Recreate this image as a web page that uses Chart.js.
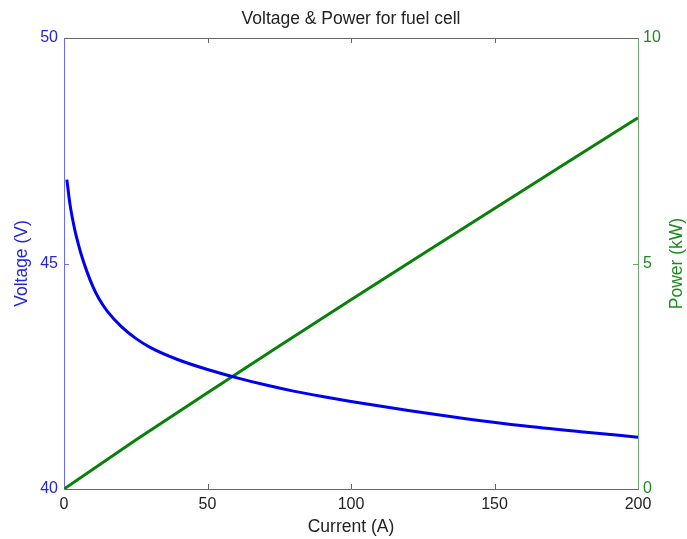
<!DOCTYPE html>
<html>
<head>
<meta charset="utf-8">
<script src="https://cdn.jsdelivr.net/npm/chart.js@4"></script>
<style>
  html, body { margin: 0; padding: 0; background: #ffffff; }
  #wrap { width: 687px; height: 539px; }
</style>
</head>
<body>
<div id="wrap"><canvas id="fuel_cell_chart"></canvas></div>
<script>
const voltage_current = [1, 2, 3, 4, 5, 6, 8, 10, 12, 15, 20, 25, 30, 40, 50, 60, 70, 80, 90, 100, 120, 140, 160, 180, 200];
const voltage = [46.86, 46.35, 45.98, 45.68, 45.43, 45.2, 44.82, 44.5, 44.24, 43.95, 43.6, 43.34, 43.14, 42.86, 42.65, 42.47, 42.31, 42.17, 42.05, 41.94, 41.74, 41.56, 41.4, 41.27, 41.15];

const power_current = [0, 25, 50, 75, 100, 125, 150, 175, 200];
const power = [0, 1.085, 2.134, 3.17, 4.194, 5.21, 6.22, 7.23, 8.23];

const current_ticks = [0, 50, 100, 150, 200];
const voltage_ticks = [40, 45, 50];
const power_ticks = [0, 5, 10];

const font_family = 'Liberation Sans, Arial, Helvetica, sans-serif';
const blue = '#0000f0';
const green = '#0a800a';

const toPoints = (xs, ys) => xs.map((x, i) => ({ x: x, y: ys[i] }));
const useTicks = (values) => (scale) => { scale.ticks = values.map(v => ({ value: v })); };

// MATLAB style: box line on top, tick marks pointing into the plot,
// and the right axis title reading bottom to top like the left one
const inward_ticks = {
  id: 'inwardTicks',
  afterDraw(chart) {
    const ctx = chart.ctx;
    const area = chart.chartArea;
    const sx = chart.scales.x, sy = chart.scales.y, sp = chart.scales.yPower;
    const len = 5;
    ctx.save();
    ctx.lineWidth = 1;
    ctx.strokeStyle = '#666666';
    ctx.beginPath();
    ctx.moveTo(area.left, area.top + 0.5);
    ctx.lineTo(area.right, area.top + 0.5);
    current_ticks.slice(1, -1).forEach(v => {
      const px = Math.round(sx.getPixelForValue(v)) + 0.5;
      ctx.moveTo(px, area.bottom);
      ctx.lineTo(px, area.bottom - len);
      ctx.moveTo(px, area.top);
      ctx.lineTo(px, area.top + len);
    });
    ctx.stroke();

    ctx.strokeStyle = '#6a6aff';
    ctx.beginPath();
    voltage_ticks.slice(1, -1).forEach(v => {
      const py = Math.round(sy.getPixelForValue(v)) + 0.5;
      ctx.moveTo(area.left, py);
      ctx.lineTo(area.left + len, py);
    });
    ctx.stroke();

    ctx.strokeStyle = '#6aaa6a';
    ctx.beginPath();
    power_ticks.slice(1, -1).forEach(v => {
      const py = Math.round(sp.getPixelForValue(v)) + 0.5;
      ctx.moveTo(area.right, py);
      ctx.lineTo(area.right - len, py);
    });
    ctx.stroke();

    ctx.translate(sp.right - 10, (area.top + area.bottom) / 2);
    ctx.rotate(-Math.PI / 2);
    ctx.fillStyle = '#1f8a1f';
    ctx.font = '17.5px ' + font_family;
    ctx.textAlign = 'center';
    ctx.textBaseline = 'middle';
    ctx.fillText('Power (kW)', 0, 0);
    ctx.restore();
  }
};

const data_fuel_cell = {
  datasets: [{
    label: 'Voltage',
    data: toPoints(voltage_current, voltage),
    borderColor: blue,
    backgroundColor: blue,
    borderWidth: 3,
    pointRadius: 0,
    cubicInterpolationMode: 'monotone',
    yAxisID: 'y'
  }, {
    label: 'Power',
    data: toPoints(power_current, power),
    borderColor: green,
    backgroundColor: green,
    borderWidth: 3,
    pointRadius: 0,
    yAxisID: 'yPower'
  }]
};

const config_fuel_cell = {
  type: 'line',
  data: data_fuel_cell,
  options: {
    responsive: true,
    maintainAspectRatio: false,
    animation: false,
    layout: { padding: 0 },
    plugins: {
      legend: { display: false },
      tooltip: { enabled: false },
      title: {
        display: true,
        text: 'Voltage & Power for fuel cell',
        fullSize: false,
        color: '#222222',
        font: { family: font_family, size: 17.5, weight: 'normal' },
        padding: { top: 9, bottom: 8 }
      }
    },
    scales: {
      x: {
        type: 'linear',
        min: 0,
        max: 200,
        afterBuildTicks: useTicks(current_ticks),
        afterFit: (scale) => { scale.height = 50; },
        grid: { display: false, drawTicks: false },
        border: { display: true, color: '#666666', width: 1 },
        ticks: { color: '#222222', padding: 6, maxRotation: 0, font: { family: font_family, size: 16 } },
        title: {
          display: true,
          text: 'Current (A)',
          color: '#222222',
          font: { family: font_family, size: 17.5 },
          padding: { top: 0, bottom: 1 }
        }
      },
      y: {
        type: 'linear',
        position: 'left',
        min: 40,
        max: 50,
        afterBuildTicks: useTicks(voltage_ticks),
        afterFit: (scale) => { scale.width = 64; },
        grid: { display: false, drawTicks: false },
        border: { display: true, color: '#6a6aff', width: 1 },
        ticks: { color: '#2424d8', padding: 6, font: { family: font_family, size: 16 } },
        title: {
          display: true,
          text: 'Voltage (V)',
          color: '#2424d8',
          font: { family: font_family, size: 17.5 },
          padding: { top: 12, bottom: 0 }
        }
      },
      yPower: {
        type: 'linear',
        position: 'right',
        min: 0,
        max: 10,
        afterBuildTicks: useTicks(power_ticks),
        afterFit: (scale) => { scale.width = 49; },
        grid: { display: false, drawTicks: false },
        border: { display: true, color: '#6aaa6a', width: 1 },
        ticks: { color: '#1f8a1f', padding: 5, font: { family: font_family, size: 16 } },
        title: { display: false }
      }
    }
  },
  plugins: [inward_ticks]
};

const fuel_cell_chart = new Chart(
  document.getElementById('fuel_cell_chart'),
  config_fuel_cell
);
</script>
</body>
</html>
